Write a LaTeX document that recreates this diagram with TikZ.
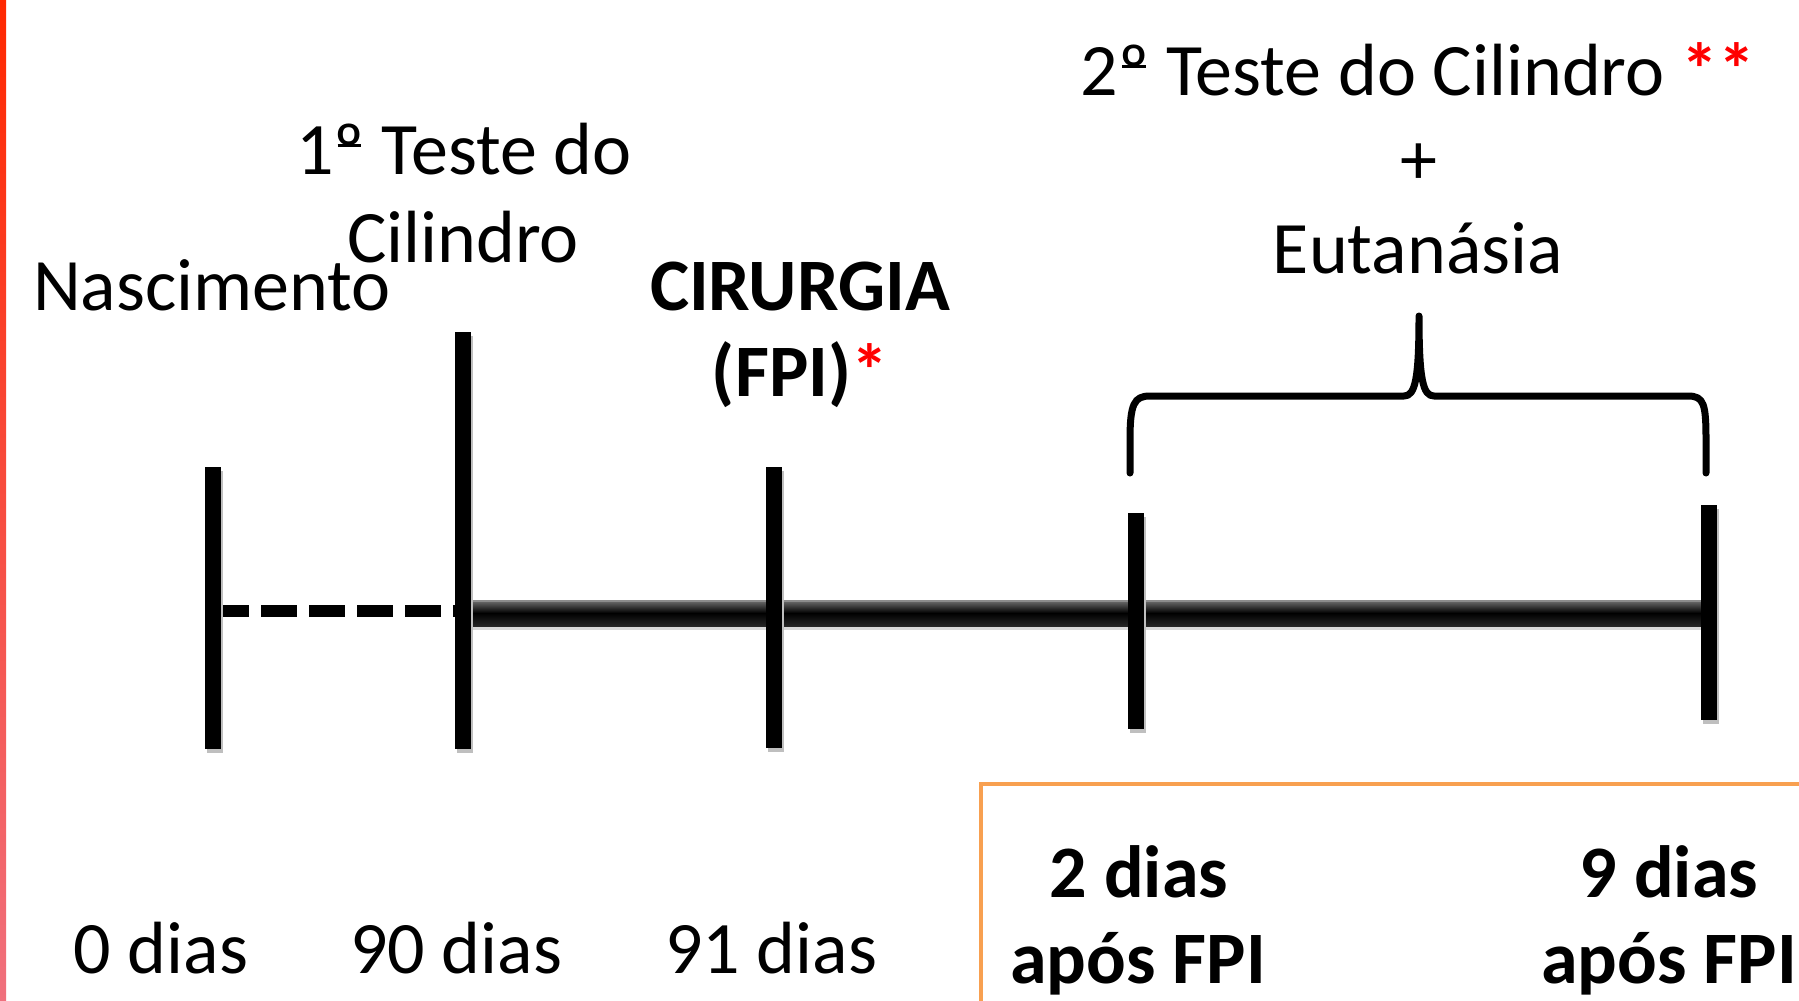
\documentclass[tikz,border=0pt]{standalone}
\usepackage{fontspec}
\setmainfont{Carlito}
\usetikzlibrary{calc}
\definecolor{barTop}{RGB}{255,40,0}
\definecolor{barBot}{RGB}{240,112,125}
\definecolor{boxOrange}{RGB}{248,160,80}
\newcommand\ordo{\leavevmode\setbox0\hbox{º}\rlap{º}\raisebox{0.36em}{\hbox to \wd0{\hss\rule{0.75\wd0}{0.05em}\hss}}}
\begin{document}
\begin{tikzpicture}[x=0.5pt,y=-0.5pt,
  lbl/.style={anchor=base, inner sep=0pt, font=\fontsize{37}{44}\selectfont},
  blbl/.style={anchor=base, inner sep=0pt, font=\fontsize{37}{44}\selectfont\bfseries},
  tickline/.style={line width=8pt},
  dashline/.style={line width=6pt, dash pattern=on 18pt off 6pt},
  bracepath/.style={line width=3.5pt, line cap=round, line join=round},
  boxline/.style={draw=boxOrange, line width=2pt}]
\useasboundingbox (0,0) rectangle (1799,1001);
\clip (0,0) rectangle (1799,1001);
\fill[white] (0,0) rectangle (1799,1001);
% left accent bar
\shade[top color=barTop, bottom color=barBot] (0,0) rectangle (6,1001);

% coordinates
\coordinate (t1a) at (213,467); \coordinate (t1b) at (213,749);
\coordinate (t2a) at (463,332); \coordinate (t2b) at (463,749);
\coordinate (t3a) at (774,467); \coordinate (t3b) at (774,748);
\coordinate (t4a) at (1136,513); \coordinate (t4b) at (1136,729);
\coordinate (t5a) at (1709,505); \coordinate (t5b) at (1709,720);
\coordinate (m1) at (213,611); \coordinate (m2) at (463,611);

% dashed segment
\draw[dashline] (m1) -- (m2);
% thick timeline (tube look)
\fill[black!15] (463,604) rectangle (1709,630);
\shade[top color=black!55, bottom color=black!85, middle color=black] (463,600) rectangle (1709,626);
\draw[black!45, line width=0.8pt] (463,601) -- (1709,601);

% ticks
\foreach \a/\b in {t1a/t1b,t2a/t2b,t3a/t3b,t4a/t4b,t5a/t5b}{
  \draw[black!25, line width=8pt] ($(\a)+(2,4)$) -- ($(\b)+(2,4)$);
}
\foreach \a/\b in {t1a/t1b,t2a/t2b,t3a/t3b,t4a/t4b,t5a/t5b}{
  \draw[tickline] (\a) -- (\b);
}

% brace
\draw[bracepath] (1130,473) -- (1130,440)
  .. controls (1130,404) and (1134,396) .. (1150,396)
  -- (1404,396)
  .. controls (1415,396) and (1419,380) .. (1419,316)
  .. controls (1419,380) and (1423,396) .. (1434,396)
  -- (1688,396)
  .. controls (1704,396) and (1706,404) .. (1706,440)
  -- (1706,473);

% orange box
\draw[boxline] (981,1010) -- (981,784) -- (1810,784);

% labels
\node[lbl] (nasc) at (212,310) {Nascimento};
\node[lbl] (t1l1) at (464,174) {1\ordo{} Teste do};
\node[lbl] (t1l2) at (463,262) {Cilindro};
\node[blbl] (cir1) at (800,310) {CIRURGIA};
\node[blbl] (cir2) at (800,396) {(FPI)\textcolor{red}{*}};
\node[lbl] (t2l1) at (1418,95) {2\ordo{} Teste do Cilindro \textcolor{red}{\bfseries**}};
\node[lbl] (t2l2) at (1419,184) {+};
\node[lbl] (t2l3) at (1418,273) {Eutanásia};
\node[lbl] (d0) at (161,973) {0 dias};
\node[lbl] (d90) at (456,973) {90 dias};
\node[lbl] (d91) at (771,973) {91 dias};
\node[blbl] (d2a) at (1139,897) {2 dias};
\node[blbl] (d2b) at (1138,983) {após FPI};
\node[blbl] (d9a) at (1669,897) {9 dias};
\node[blbl] (d9b) at (1669,983) {após FPI};
\end{tikzpicture}
\end{document}
